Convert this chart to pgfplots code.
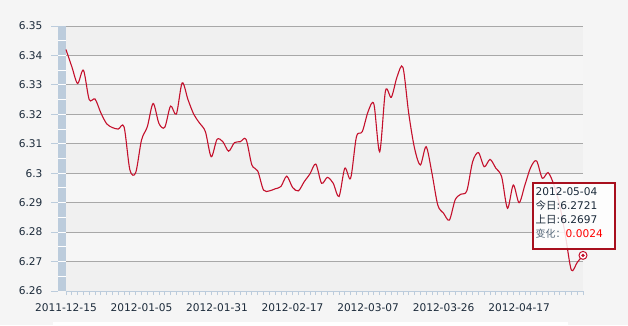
\documentclass[border=0pt]{standalone}
\usepackage{pgfplots}
\pgfplotsset{compat=1.18}
\usepackage{pgfplotstable}
\usepackage{fontspec}
\setmainfont{DejaVu Sans}
\newfontfamily\cjk{Noto Sans CJK SC}
\definecolor{bg}{HTML}{F5F5F5}
\definecolor{banddark}{HTML}{F0F0F0}
\definecolor{bandlight}{HTML}{F6F6F6}
\definecolor{gridgray}{HTML}{A8A8A8}
\definecolor{barblue}{HTML}{BCCCDC}
\definecolor{txt}{HTML}{1B2A3A}
\definecolor{linered}{HTML}{C4102C}
\definecolor{tipred}{HTML}{A8101E}
\definecolor{labgray}{HTML}{56687A}

\pgfplotstableread{
i v
0 6.3420
1 6.3362
2 6.3305
3 6.3350
4 6.3250
5 6.3252
6 6.3205
7 6.3168
8 6.3155
9 6.3150
10 6.3157
11 6.3011
12 6.3002
13 6.3113
14 6.3158
15 6.3237
16 6.3169
17 6.3156
18 6.3228
19 6.3201
20 6.3307
21 6.3250
22 6.3200
23 6.3170
24 6.3141
25 6.3056
26 6.3115
27 6.3107
28 6.3075
29 6.3104
30 6.3107
31 6.3115
32 6.3028
33 6.3008
34 6.2943
35 6.2940
36 6.2947
37 6.2955
38 6.2990
39 6.2952
40 6.2940
41 6.2971
42 6.2998
43 6.3031
44 6.2966
45 6.2986
46 6.2966
47 6.2921
48 6.3017
49 6.2983
50 6.3124
51 6.3141
52 6.3209
53 6.3235
54 6.3073
55 6.3280
56 6.3258
57 6.3328
58 6.3360
59 6.3203
60 6.3085
61 6.3028
62 6.3090
63 6.3000
64 6.2892
65 6.2864
66 6.2841
67 6.2910
68 6.2929
69 6.2940
70 6.3039
71 6.3070
72 6.3022
73 6.3047
74 6.3017
75 6.2988
76 6.2881
77 6.2960
78 6.2900
79 6.2960
80 6.3020
81 6.3042
82 6.2983
83 6.3002
84 6.2960
85 6.2890
86 6.2785
87 6.2671
88 6.2697
89 6.2721
}\ratedata

\begin{document}
\begin{tikzpicture}
\begin{scope}[x=1pt,y=1pt]
\fill[bg] (-66,-34) rectangle (562,291);
\foreach \k in {0,2,4,6,8} \fill[banddark] (0,{265-29.4444*\k}) rectangle (517,{265-29.4444*(\k+1)});
\foreach \k in {1,3,5,7} \fill[bandlight] (0,{265-29.4444*\k}) rectangle (517,{265-29.4444*(\k+1)});
\fill[barblue] (-8,0) rectangle (0,265);
\foreach \j in {1,...,17} \draw[white, line width=1pt] (-8,{14.7222*\j}) -- (0,{14.7222*\j});
\foreach \k in {0,...,9} \draw[barblue, line width=1pt] (-14.5,{29.4444*\k}) -- (-8,{29.4444*\k});
\fill[white] (-13,-34) rectangle (502,-31);
\end{scope}
\begin{axis}[
  at={(0pt,0pt)}, anchor=south west,
  width=517pt, height=265pt, scale only axis,
  xmin=0, xmax=89, ymin=6.26, ymax=6.35,
  ytick={6.26,6.27,6.28,6.29,6.30,6.31,6.32,6.33,6.34,6.35},
  yticklabels={6.26,6.27,6.28,6.29,6.3,6.31,6.32,6.33,6.34,6.35},
  xtick={0,13,26,39,52,65,78},
  xticklabels={2011-12-15,2012-01-05,2012-01-31,2012-02-17,2012-03-07,2012-03-26,2012-04-17},
  minor xtick={0,...,89},
  axis x line*=bottom, axis y line*=left,
  axis line style={-},
  x axis line style={barblue, line width=1pt},
  y axis line style={draw=none},
  tick align=outside,
  major tick length=4pt, minor tick length=4pt,
  every tick/.style={barblue, line width=0.8pt},
  ytick style={draw=none},
  ymajorgrids,
  grid style={gridgray, line width=1pt},
  tick label style={font=\fontsize{10.6}{12}\selectfont, text=txt},
  yticklabel style={anchor=east, xshift=-16pt},
  xticklabel style={anchor=base, yshift=-16.5pt},
  clip=false,
]
\addplot[linered, line width=1.1pt, smooth, no marks] table[x=i, y=v] {\ratedata};
\addplot[only marks, mark=*, mark size=4pt, mark options={fill=white, draw=linered, line width=1pt}] coordinates {(89,6.2721)};
\addplot[only marks, mark=*, mark size=1.5pt, mark options={fill=linered, draw=linered}] coordinates {(89,6.2721)};
\end{axis}
\begin{scope}[x=1pt,y=1pt]
\fill[white, opacity=0.85] (467,42) rectangle (549,108);
\draw[tipred, line width=1.2pt] (467,42) rectangle (549,108);
\begin{scope}[every node/.style={anchor=base west, inner sep=0pt, font=\fontsize{10.6}{12}\selectfont, text=txt}]
\node at (469.5,95.4) {2012-05-04};
\node at (469.5,81.5) {{\cjk\fontsize{10.5}{12}\selectfont 今日}:6.2721};
\node at (469.5,67.5) {{\cjk\fontsize{10.5}{12}\selectfont 上日}:6.2697};
\node at (469.5,53.5) {{\color{labgray}\cjk\fontsize{10}{12}\selectfont 变化：}\textcolor{red}{0.0024}};
\end{scope}
\end{scope}
\end{tikzpicture}
\end{document}
